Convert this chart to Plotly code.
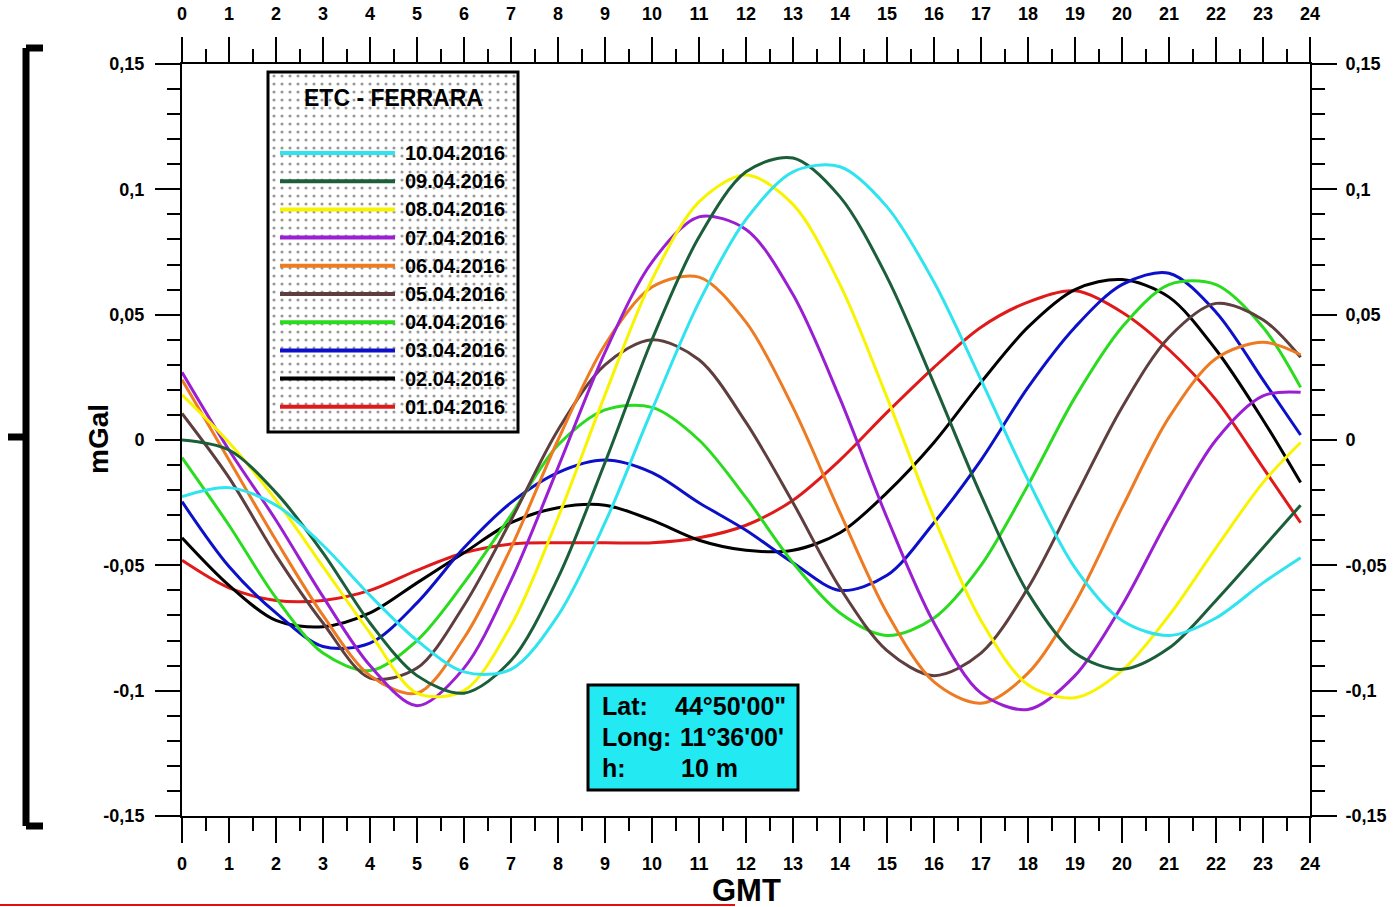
import plotly.graph_objects as go

# ---------------- data (mGal) ----------------
hours = [0, 1, 2, 3, 4, 5, 6, 7, 8, 9, 10, 11, 12, 13, 14, 15, 16, 17, 18, 19, 20, 21, 22, 23, 23.8]

d_01_04 = [-0.048, -0.059, -0.064, -0.064, -0.060, -0.052, -0.045, -0.0415, -0.041, -0.041, -0.041, -0.039,
           -0.034, -0.024, -0.008, 0.011, 0.029, 0.045, 0.055, 0.0595, 0.051, 0.036, 0.016, -0.011, -0.033]
d_02_04 = [-0.039, -0.058, -0.072, -0.0745, -0.069, -0.057, -0.045, -0.033, -0.027, -0.026, -0.032, -0.040,
           -0.044, -0.044, -0.037, -0.021, -0.001, 0.023, 0.045, 0.060, 0.064, 0.057, 0.036, 0.008, -0.017]
d_03_04 = [-0.0246, -0.0505, -0.069, -0.0824, -0.081, -0.065, -0.043, -0.025, -0.013, -0.008, -0.013, -0.025,
           -0.036, -0.049, -0.060, -0.054, -0.033, -0.008, 0.021, 0.045, 0.062, 0.0665, 0.051, 0.024, 0.002]
d_04_04 = [-0.007, -0.034, -0.063, -0.085, -0.092, -0.080, -0.057, -0.030, -0.002, 0.012, 0.013, 0.000,
           -0.023, -0.049, -0.069, -0.078, -0.071, -0.050, -0.018, 0.017, 0.045, 0.062, 0.062, 0.045, 0.021]
d_05_04 = [0.0106, -0.015, -0.046, -0.073, -0.095, -0.091, -0.066, -0.032, 0.004, 0.030, 0.040, 0.032,
           0.007, -0.025, -0.059, -0.084, -0.094, -0.085, -0.059, -0.023, 0.013, 0.041, 0.0545, 0.048, 0.033]
d_06_04 = [0.024, -0.008, -0.040, -0.070, -0.094, -0.101, -0.079, -0.043, 0.000, 0.038, 0.061, 0.065,
           0.047, 0.013, -0.029, -0.069, -0.0965, -0.105, -0.093, -0.065, -0.027, 0.009, 0.0325, 0.039, 0.034]
d_07_04 = [0.027, -0.004, -0.032, -0.0625, -0.090, -0.106, -0.091, -0.056, -0.011, 0.035, 0.071, 0.089,
           0.084, 0.058, 0.0165, -0.031, -0.073, -0.101, -0.1075, -0.094, -0.066, -0.031, 0.000, 0.0176, 0.019]
d_08_04 = [0.018, -0.001, -0.024, -0.0505, -0.077, -0.101, -0.100, -0.074, -0.031, 0.018, 0.064, 0.095,
           0.1057, 0.094, 0.062, 0.017, -0.031, -0.072, -0.0976, -0.1028, -0.092, -0.070, -0.043, -0.017, -0.001]
d_09_04 = [0.000, -0.004, -0.021, -0.045, -0.073, -0.094, -0.101, -0.088, -0.055, -0.009, 0.040, 0.081,
           0.107, 0.1125, 0.097, 0.065, 0.0225, -0.022, -0.061, -0.085, -0.0915, -0.083, -0.064, -0.043, -0.026]
d_10_04 = [-0.0226, -0.019, -0.026, -0.042, -0.062, -0.080, -0.0925, -0.0915, -0.070, -0.033, 0.012, 0.055,
           0.088, 0.107, 0.109, 0.093, 0.063, 0.024, -0.016, -0.051, -0.072, -0.078, -0.071, -0.057, -0.047]

dates = ["10.04.2016", "09.04.2016", "08.04.2016", "07.04.2016", "06.04.2016",
         "05.04.2016", "04.04.2016", "03.04.2016", "02.04.2016", "01.04.2016"]
series = [d_10_04, d_09_04, d_08_04, d_07_04, d_06_04, d_05_04, d_04_04, d_03_04, d_02_04, d_01_04]
colors = ["#2FE4EE", "#1B5E3A", "#F8F400", "#9A1FD2", "#EE7A22",
          "#5E3E3E", "#2ADB1E", "#0C10C8", "#000000", "#E01A1A"]

x_ticks = list(range(0, 25))
y_tickvals = [-0.15, -0.1, -0.05, 0, 0.05, 0.1, 0.15]
y_ticktext = ["-0,15", "-0,1", "-0,05", "0", "0,05", "0,1", "0,15"]

legend_title = "ETC - FERRARA"
info_labels = ["Lat:", "Long:", "h:"]
info_values = ["44°50'00\"", "11°36'00'", "10 m"]

# ---------------- layout geometry (pixels) ----------------
W, H = 1400, 907
L, R, T, B = 182, 90, 64, 91
PW, PH = W - L - R, H - T - B


def pxp(x):
    return (x - L) / PW


def pyp(y):
    return (H - B - y) / PH


def pxd(x):
    return (x - L) / PW * 24


def pyd(y):
    return -0.15 + (H - B - y) / PH * 0.3


FONT = "Liberation Sans, Arial, sans-serif"

fig = go.Figure()

# dotted background of the legend box (decoration)
bx0, bx1, by0, by1 = 268, 518, 72, 432
fig.add_trace(go.Scatter(
    x=[pxd(bx0), pxd(bx1), pxd(bx1), pxd(bx0), pxd(bx0)],
    y=[pyd(by0), pyd(by0), pyd(by1), pyd(by1), pyd(by0)],
    xaxis="x2", yaxis="y2",
    mode="lines", line=dict(width=0, color="rgba(0,0,0,0)"),
    fill="toself", fillcolor="white",
    fillpattern=dict(shape=".", fgcolor="#333333", bgcolor="white", size=8, solidity=0.12),
    hoverinfo="skip", showlegend=False))

# curves: draw oldest first
for name, vals, col in reversed(list(zip(dates, series, colors))):
    fig.add_trace(go.Scatter(
        x=hours, y=vals, name=name, mode="lines",
        line=dict(color=col, width=3, shape="spline", smoothing=0.9),
        showlegend=False))

tickfont = dict(family=FONT, size=18, color="black", weight="bold")
common_x = dict(range=[0, 24], tickmode="array", tickvals=x_ticks, ticktext=[str(v) for v in x_ticks],
                showline=True, linecolor="black", linewidth=2, ticks="outside", ticklen=25,
                tickwidth=2, tickcolor="black", showgrid=False, zeroline=False, tickfont=tickfont,
                automargin=False,
                minor=dict(tickmode="linear", tick0=0.5, dtick=1, ticks="outside", ticklen=13,
                           tickwidth=2, tickcolor="black", showgrid=False))
common_y = dict(range=[-0.15, 0.15], tickmode="array", tickvals=y_tickvals, ticktext=y_ticktext,
                showline=True, linecolor="black", linewidth=2, ticks="outside", ticklen=25,
                tickwidth=2, tickcolor="black", showgrid=False, zeroline=False, tickfont=tickfont,
                automargin=False,
                minor=dict(tickmode="linear", tick0=0, dtick=0.01, ticks="outside", ticklen=13,
                           tickwidth=2, tickcolor="black", showgrid=False))

fig.update_layout(
    width=W, height=H, autosize=False,
    margin=dict(l=L, r=R, t=T, b=B, pad=0, autoexpand=False),
    paper_bgcolor="white", plot_bgcolor="white",
    showlegend=False,
    xaxis=dict(**common_x, side="bottom", anchor="y", ticklabelstandoff=5),
    xaxis2=dict(**common_x, side="top", anchor="y", overlaying="x", matches="x", ticklabelstandoff=10),
    yaxis=dict(**common_y, side="left", anchor="x", ticklabelstandoff=7),
    yaxis2=dict(**common_y, side="right", anchor="x", overlaying="y", matches="y", ticklabelstandoff=5),
)

shapes = []
annotations = []

# legend box border
shapes.append(dict(type="rect", xref="paper", yref="paper", x0=pxp(bx0), x1=pxp(bx1), y0=pyp(by1), y1=pyp(by0),
                   line=dict(color="black", width=3), fillcolor="rgba(0,0,0,0)", layer="above"))
annotations.append(dict(xref="paper", yref="paper", x=pxp(393), y=pyp(98), text=legend_title, showarrow=False,
                        xanchor="center", yanchor="middle",
                        font=dict(family=FONT, size=23, color="black", weight="bold")))
for i, (name, col) in enumerate(zip(dates, colors)):
    yy = 153 + i * 28.2
    shapes.append(dict(type="line", xref="paper", yref="paper", x0=pxp(280), x1=pxp(395), y0=pyp(yy), y1=pyp(yy),
                       line=dict(color=col, width=4), layer="above"))
    annotations.append(dict(xref="paper", yref="paper", x=pxp(403), y=pyp(yy), text=name, showarrow=False,
                            xanchor="left", yanchor="middle",
                            font=dict(family=FONT, size=20, color="black", weight="bold")))

# info box
shapes.append(dict(type="rect", xref="paper", yref="paper", x0=pxp(588), x1=pxp(798), y0=pyp(790), y1=pyp(685),
                   line=dict(color="black", width=3), fillcolor="#22E9F2", layer="above"))
value_x = [673, 678, 679]
for i, (lab, val) in enumerate(zip(info_labels, info_values)):
    yy = 706 + i * 31
    annotations.append(dict(xref="paper", yref="paper", x=pxp(600), y=pyp(yy), text=lab, showarrow=False,
                            xanchor="left", yanchor="middle",
                            font=dict(family=FONT, size=25, color="black", weight="bold")))
    annotations.append(dict(xref="paper", yref="paper", x=pxp(value_x[i]), y=pyp(yy), text=val, showarrow=False,
                            xanchor="left", yanchor="middle",
                            font=dict(family=FONT, size=25, color="black", weight="bold")))

# axis titles
annotations.append(dict(xref="paper", yref="paper", x=pxp(746), y=pyp(890), text="GMT", showarrow=False,
                        xanchor="center", yanchor="middle",
                        font=dict(family=FONT, size=31, color="black", weight="bold")))
annotations.append(dict(xref="paper", yref="paper", x=pxp(98), y=pyp(439), text="mGal", showarrow=False,
                        xanchor="center", yanchor="middle", textangle=-90,
                        font=dict(family=FONT, size=28, color="black", weight="bold")))

# left bracket and bottom red rule (page decorations)
for (x0, y0, x1, y1) in [(26, 48, 43, 48), (26, 48, 26, 826), (26, 826, 43, 826), (8, 437, 26, 437)]:
    shapes.append(dict(type="line", xref="paper", yref="paper", x0=pxp(x0), x1=pxp(x1), y0=pyp(y0), y1=pyp(y1),
                       line=dict(color="black", width=7)))
shapes.append(dict(type="line", xref="paper", yref="paper", x0=pxp(0), x1=pxp(735), y0=pyp(905), y1=pyp(905),
                   line=dict(color="#E01010", width=2)))

fig.update_layout(shapes=shapes, annotations=annotations)

fig.write_html("out.html", config={"displayModeBar": False},
               post_script="document.body.style.margin='0';document.body.style.overflow='hidden';")
